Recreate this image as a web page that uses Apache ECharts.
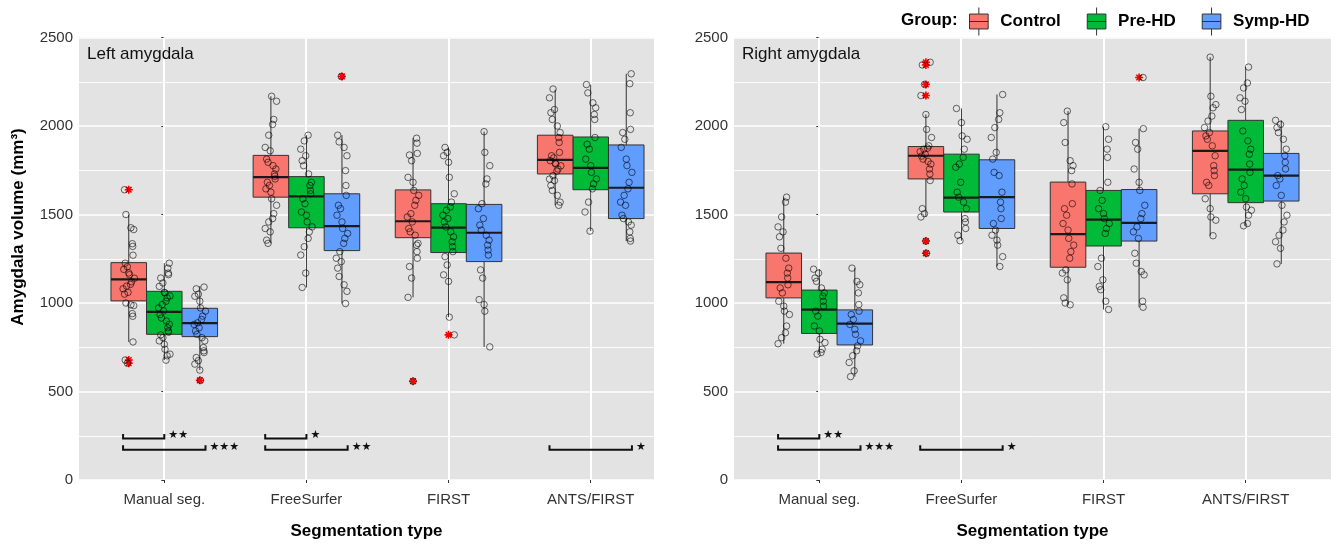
<!DOCTYPE html>
<html>
<head>
<meta charset="utf-8">
<script src="https://cdn.jsdelivr.net/npm/echarts@6/dist/echarts.min.js"></script>
<style>html,body{margin:0;padding:0;background:#fff}#c{width:1340px;height:545px}</style>
</head>
<body>
<div id="c"></div>
<script>
// ---------------- DATA ----------------
const categories = ['Manual seg.', 'FreeSurfer', 'FIRST', 'ANTS/FIRST'];
const groups = ['Control', 'Pre-HD', 'Symp-HD'];
const yTicks = [0, 500, 1000, 1500, 2000, 2500];
const panelTitles = ['Left amygdala', 'Right amygdala'];

// box stats per category: [lower whisker, Q1, median, Q3, upper whisker]
const leftControlBox = [[780,1012,1133,1228,1500],[1337,1598,1711,1834,2168],[1032,1369,1462,1639,1931],[1552,1729,1809,1948,2205]];
const leftPreBox     = [[677,823,950,1066,1225],[1088,1425,1602,1714,1948],[920,1285,1426,1561,1879],[1406,1640,1763,1938,2234]];
const leftSympBox    = [[621,810,886,970,1095],[997,1296,1434,1617,1948],[752,1234,1397,1557,1968],[1350,1477,1651,1893,2295]];
const rightControlBox = [[770,1029,1118,1282,1598],[1486,1701,1832,1884,2065],[990,1202,1389,1683,2084],[1380,1617,1860,1972,2389]];
const rightPreBox     = [[711,828,963,1073,1191],[1352,1514,1595,1841,2099],[963,1322,1471,1636,1996],[1436,1567,1753,2032,2333]];
const rightSympBox    = [[584,763,884,961,1197],[1206,1421,1598,1809,2178],[976,1350,1453,1641,1985],[1221,1576,1720,1845,2032]];

// outliers per category
const leftControlOut = [[1640,678,660],[],[558],[]];
const leftPreOut     = [[],[],[820],[]];
const leftSympOut    = [[563],[2280],[],[]];
const rightControlOut = [[],[2360,2345,2235,2172,1350,1281],[],[]];
const rightPreOut     = [[],[],[],[]];
const rightSympOut    = [[],[],[2274],[]];

// individual subject volumes per category
const leftControlPts = [
  [1640,1500,1425,1415,1335,1320,1270,1225,1205,1190,1170,1160,1140,1120,1105,1095,1080,1060,1050,1000,990,985,940,925,780,678,660],
  [2168,2140,2037,2009,1948,1879,1860,1813,1795,1776,1757,1729,1716,1701,1682,1664,1645,1626,1589,1552,1505,1477,1458,1421,1402,1355,1337],
  [1931,1903,1845,1836,1804,1710,1682,1636,1608,1580,1552,1505,1486,1458,1421,1402,1383,1337,1327,1290,1253,1206,1141,1032,558],
  [2209,2159,2093,2075,2037,2000,1963,1935,1907,1851,1832,1820,1804,1790,1785,1775,1757,1745,1720,1700,1692,1664,1636,1608,1570,1552]
];
const leftPrePts = [
  [1225,1197,1169,1160,1141,1113,1094,1060,1057,1040,1029,1010,991,972,955,935,915,898,880,860,842,835,820,804,786,767,739,711,702,677],
  [1948,1916,1869,1832,1804,1776,1729,1682,1664,1636,1617,1589,1561,1514,1496,1458,1430,1402,1365,1318,1271,1169,1088],
  [1879,1851,1832,1795,1710,1617,1570,1542,1524,1496,1477,1458,1430,1402,1374,1346,1318,1290,1262,1215,1159,1122,920,820],
  [2234,2187,2131,2103,2065,2037,1935,1897,1869,1813,1776,1738,1701,1673,1645,1570,1514,1406]
];
const leftSympPts = [
  [1090,1080,1050,1038,1010,972,954,926,907,888,879,860,842,823,804,786,748,730,720,692,674,655,621,563],
  [2280,1948,1910,1879,1832,1748,1664,1608,1552,1533,1496,1458,1421,1393,1365,1337,1290,1253,1234,1197,1150,1103,1066,997],
  [1968,1851,1776,1701,1673,1561,1533,1477,1440,1412,1383,1355,1327,1299,1271,1187,1141,1019,991,954,752],
  [2295,2239,2075,1981,1963,1925,1879,1813,1776,1738,1682,1645,1608,1570,1552,1496,1477,1458,1440,1402,1365,1350]
];
const rightControlPts = [
  [1598,1570,1486,1430,1402,1374,1309,1253,1197,1169,1141,1103,1085,1057,1010,982,954,935,870,832,804,770],
  [2360,2345,2235,2172,2065,1981,1935,1888,1875,1869,1855,1841,1830,1813,1800,1785,1757,1729,1692,1533,1505,1486,1350,1281],
  [2084,2019,1907,1804,1776,1748,1673,1561,1533,1496,1449,1412,1365,1327,1290,1253,1187,1169,1131,1029,1000,990],
  [2389,2168,2121,2103,2056,2028,1991,1963,1944,1925,1888,1832,1776,1748,1720,1682,1664,1589,1533,1486,1468,1380]
];
const rightPrePts = [
  [1191,1169,1141,1122,1085,1057,1038,1010,982,954,926,870,842,795,776,739,720,711],
  [2099,2019,1944,1925,1869,1823,1785,1767,1682,1626,1598,1570,1533,1477,1458,1421,1383,1352],
  [1996,1925,1869,1823,1682,1636,1580,1533,1505,1477,1449,1421,1393,1253,1206,1131,1094,1075,1010,963],
  [2333,2243,2215,2159,2140,2093,1972,1916,1869,1841,1785,1738,1701,1664,1626,1589,1542,1524,1496,1449,1436]
];
const rightSympPts = [
  [1197,1122,1103,1057,991,954,935,907,879,851,823,786,758,730,702,664,617,584],
  [2178,2075,2037,1991,1935,1851,1813,1738,1720,1626,1570,1533,1477,1449,1412,1383,1355,1327,1262,1206],
  [2274,1985,1907,1869,1757,1682,1636,1552,1505,1477,1430,1402,1365,1281,1225,1178,1159,1010,976],
  [2032,2009,1991,1963,1925,1869,1832,1795,1757,1720,1701,1664,1608,1552,1496,1458,1412,1383,1346,1309,1221]
];

// significance brackets: [category, from group, to group, bracket row, label]
const leftSig  = [[0,0,1,1,'**'],[0,0,2,2,'***'],[1,0,1,1,'*'],[1,0,2,2,'**'],[3,0,2,2,'*']];
const rightSig = [[0,0,1,1,'**'],[0,0,2,2,'***'],[1,0,2,2,'*']];
const sigRowValue = [0, 235, 171];

// ---------------- STYLE ----------------
const COLORS = ['#F8766D', '#00BA38', '#619CFF'];
const FONT = "'Liberation Sans', Arial, sans-serif";
const DODGE = [-0.25, 0, 0.25];
const BOXW = 0.25;
const JIT = [-0.03,0.02,-0.01,0.035,-0.04,0.005,0.03,-0.02,0.012,-0.035,0.025,-0.005,0.04,-0.025,0.015,-0.015,0.0,0.028];
const ASTER = 'path://M5,0L5,10M0,5L10,5M1.5,1.5L8.5,8.5M1.5,8.5L8.5,1.5';

const chart = echarts.init(document.getElementById('c'));

function makeBoxRender(withGridLine) {
  return function (params, api) {
    const x = api.value(0);
    const lo = api.coord([x, api.value(1)]), q1 = api.coord([x, api.value(2)]),
          md = api.coord([x, api.value(3)]), q3 = api.coord([x, api.value(4)]),
          hi = api.coord([x, api.value(5)]);
    const w = api.size([BOXW, 0])[0];
    const cx = md[0];
    const fill = api.visual('color');
    const children = [];
    if (withGridLine) {
      // vertical major gridline at the category position (drawn under the middle box)
      const gc = Math.round(x);
      const top = api.coord([gc, yTicks[yTicks.length - 1]]), bot = api.coord([gc, yTicks[0]]);
      const gx = Math.round(top[0]);
      children.push({type: 'rect', shape: {x: gx - 1, y: top[1], width: 2, height: bot[1] - top[1]},
        style: {fill: '#ffffff'}});
    }
    children.push(
      {type: 'line', shape: {x1: cx, y1: hi[1], x2: cx, y2: q3[1]}, style: {stroke: '#333', lineWidth: 1}},
      {type: 'line', shape: {x1: cx, y1: q1[1], x2: cx, y2: lo[1]}, style: {stroke: '#333', lineWidth: 1}},
      {type: 'rect', shape: {x: cx - w / 2, y: q3[1], width: w, height: q1[1] - q3[1]}, style: {fill: fill, stroke: '#333', lineWidth: 1}},
      {type: 'line', shape: {x1: cx - w / 2, y1: md[1], x2: cx + w / 2, y2: md[1]}, style: {stroke: '#1a1a1a', lineWidth: 2.2}}
    );
    return {type: 'group', children: children};
  };
}

function panelSeries(pi, boxes, outs, pts, sig) {
  const s = [];
  // middle group first so its gridlines sit beneath every box
  [1, 0, 2].forEach(gi => {
    const g = groups[gi];
    s.push({type: 'custom', name: g, xAxisIndex: pi, yAxisIndex: pi, z: 3,
      itemStyle: {color: COLORS[gi], borderColor: '#333'},
      data: categories.map((c, ci) => [ci + DODGE[gi]].concat(boxes[gi][ci])),
      renderItem: makeBoxRender(gi === 1)});
  });
  groups.forEach((g, gi) => {
    const od = [];
    categories.forEach((c, ci) => outs[gi][ci].forEach(v => od.push([ci + DODGE[gi], v])));
    s.push({type: 'scatter', name: g + ' outliers', xAxisIndex: pi, yAxisIndex: pi, z: 4, silent: true,
      symbol: ASTER, symbolSize: 8,
      itemStyle: {color: 'none', borderColor: '#FF0000', borderWidth: 1.6, opacity: 1},
      data: od});
    const pd = [];
    categories.forEach((c, ci) => pts[gi][ci].forEach((v, k) => {
      const j = JIT[(k * 7 + gi * 3 + ci * 5 + pi) % JIT.length];
      pd.push([ci + DODGE[gi] + j, v]);
    }));
    s.push({type: 'scatter', name: g + ' subjects', xAxisIndex: pi, yAxisIndex: pi, z: 5, silent: true,
      symbol: 'circle', symbolSize: 6.5,
      itemStyle: {color: 'rgba(0,0,0,0)', borderColor: 'rgba(0,0,0,0.72)', borderWidth: 1},
      data: pd});
  });
  s.push({type: 'custom', xAxisIndex: pi, yAxisIndex: pi, z: 6, silent: true,
    data: sig.map(r => [r[0] + (r[1] - 1) * 0.29, r[0] + (r[2] - 1) * 0.29, sigRowValue[r[3]]]),
    renderItem: function (params, api) {
      const p1 = api.coord([api.value(0), api.value(2)]);
      const p2 = api.coord([api.value(1), api.value(2)]);
      const t = api.size([0, 25])[1];
      const lbl = sig[params.dataIndex][4];
      return {type: 'group', children: [
        {type: 'polyline', shape: {points: [[p1[0], p1[1] - t], [p1[0], p1[1]], [p2[0], p2[1]], [p2[0], p2[1] - t]]},
          style: {stroke: '#111', lineWidth: 2, fill: 'none'}},
        {type: 'text', x: p2[0] + 4, y: p1[1] - 3,
          style: {text: lbl.replace(/\*/g, '\u2605'), font: "11px 'DejaVu Sans'", fill: '#111',
            align: 'left', verticalAlign: 'middle', textAlign: 'left', textVerticalAlign: 'middle'}}
      ]};
    }});
  return s;
}

function xAxisFor(gi, max) {
  return {gridIndex: gi, type: 'value', min: -0.6, max: max,
    axisLine: {show: false},
    axisTick: {show: true, customValues: [0, 1, 2, 3], length: 3, lineStyle: {color: '#333'}},
    axisLabel: {customValues: [0, 1, 2, 3], formatter: v => categories[Math.round(v)] || '',
      color: '#333', fontSize: 15, fontFamily: FONT, margin: 12},
    splitLine: {show: false},
    name: 'Segmentation type', nameLocation: 'middle', nameGap: 43,
    nameTextStyle: {fontSize: 17, fontWeight: 'bold', color: '#000', fontFamily: FONT}};
}
function yAxisFor(gi) {
  return {gridIndex: gi, type: 'value', min: yTicks[0], max: yTicks[yTicks.length - 1], interval: 500,
    axisLine: {show: false},
    axisTick: {show: true, length: 3, lineStyle: {color: '#333'}},
    axisLabel: {color: '#333', fontSize: 15, fontFamily: FONT, margin: 6, formatter: v => String(v)},
    splitLine: {show: true, lineStyle: {color: '#fff', width: 1.6}},
    minorTick: {show: false, splitNumber: 2},
    minorSplitLine: {show: true, lineStyle: {color: '#fff', width: 0.9}}};
}

const option = {
  animation: false,
  textStyle: {fontFamily: FONT},
  title: [
    {text: panelTitles[0], left: 82, top: 41, textStyle: {fontSize: 17, fontWeight: 'normal', color: '#111', fontFamily: FONT}},
    {text: panelTitles[1], left: 737, top: 41, textStyle: {fontSize: 17, fontWeight: 'normal', color: '#111', fontFamily: FONT}},
    {text: 'Group:', left: 896, top: 7, textStyle: {fontSize: 17, fontWeight: 'bold', color: '#000', fontFamily: FONT}}
  ],
  legend: {
    data: groups, left: 964, top: 2, itemWidth: 27, itemHeight: 28, itemGap: 26,
    icon: 'path://M0,7L20,7L20,23L0,23ZM10,0L10,7M10,23L10,30M0,15L20,15',
    itemStyle: {borderColor: '#333', borderWidth: 1},
    textStyle: {fontSize: 17, fontWeight: 'bold', color: '#000', fontFamily: FONT, padding: [0, 0, 0, 3]},
    selectedMode: false
  },
  grid: [
    {left: 79, top: 37.5, width: 575, height: 446, show: true, backgroundColor: '#E3E3E3', borderWidth: 0},
    {left: 734, top: 37.5, width: 597, height: 446, show: true, backgroundColor: '#E3E3E3', borderWidth: 0}
  ],
  xAxis: [xAxisFor(0, -0.6 + 575 / (597 / 4.2)), xAxisFor(1, 3.6)],
  yAxis: [yAxisFor(0), yAxisFor(1)],
  graphic: [
    {type: 'text', x: 18, y: 227, rotation: Math.PI / 2,
      style: {text: 'Amygdala volume (mm³)', font: "bold 17px 'Liberation Sans', Arial, sans-serif", fill: '#000',
        align: 'center', verticalAlign: 'middle', textAlign: 'center', textVerticalAlign: 'middle'}}
  ],
  series: [].concat(
    panelSeries(0, [leftControlBox, leftPreBox, leftSympBox], [leftControlOut, leftPreOut, leftSympOut], [leftControlPts, leftPrePts, leftSympPts], leftSig),
    panelSeries(1, [rightControlBox, rightPreBox, rightSympBox], [rightControlOut, rightPreOut, rightSympOut], [rightControlPts, rightPrePts, rightSympPts], rightSig)
  )
};
chart.setOption(option);
</script>
</body>
</html>
